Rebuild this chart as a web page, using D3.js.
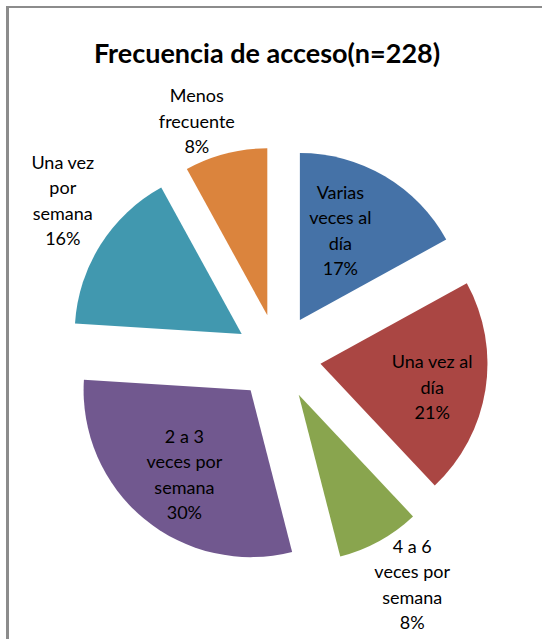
<!DOCTYPE html>
<html>
<head>
<meta charset="utf-8">
<script src="https://cdn.jsdelivr.net/npm/d3@7"></script>
<style>
    html, body { margin: 0; padding: 0; background: #fff; }
    svg { display: block; }
</style>
</head>
<body>
<div id="chart"></div>
<script>
    // Chart data
    var title = 'Frecuencia de acceso(n=228)';
    var categories = [
        ['Varias', 'veces al', 'día'],
        ['Una vez al', 'día'],
        ['4 a 6', 'veces por', 'semana'],
        ['2 a 3', 'veces por', 'semana'],
        ['Una vez', 'por', 'semana'],
        ['Menos', 'frecuente']
    ];
    var values = [17, 21, 8, 30, 16, 8];
    var colors = ['#4572A7', '#AA4643', '#89A54E', '#71588F', '#4198AF', '#DB843D'];

    // Layout
    var width = 542;
    var height = 639;
    var cx = 278, cy = 357;      // centre of the un-exploded pie
    var radius = 167;
    var explode = 43;            // distance each slice is pulled out
    var insideRadius = 150;      // label distance for labels drawn on the slice
    var outsideRadius = 262;     // label distance for labels drawn outside
    var lineHeight = 25.5;
    // small hand corrections so labels sit where Excel put them
    var labelNudge = [[-14, 3], [6, 7], [8, -2], [2, 2], [6, -16], [-16, 18]];

    var svg = d3.select('#chart').append('svg')
        .attr('width', width)
        .attr('height', height);

    /**
     * Chart frame: only the top and left edges are visible in the crop.
     */
    svg.append('line')
        .attr('x1', 6).attr('y1', 7)
        .attr('x2', width).attr('y2', 7)
        .style('stroke', '#8c8c8c')
        .style('stroke-width', 2);

    svg.append('line')
        .attr('x1', 7.5).attr('y1', 6)
        .attr('x2', 7.5).attr('y2', height)
        .style('stroke', '#8c8c8c')
        .style('stroke-width', 3);

    svg.append('text')
        .attr('x', 267)
        .attr('y', 56)
        .attr('text-anchor', 'middle')
        .attr('dominant-baseline', 'middle')
        .style('font-family', 'Lato, "Open Sans", sans-serif')
        .style('font-weight', 'bold')
        .style('font-size', '27px')
        .style('fill', '#000')
        .text(title);

    var pie = d3.pie()
        .sort(null)
        .value(function (d) { return d; });

    var arc = d3.arc()
        .innerRadius(0)
        .outerRadius(radius);

    var slices = pie(values);

    function midAngle(d) {
        return (d.startAngle + d.endAngle) / 2;
    }

    var pieGroup = svg.append('g')
        .attr('transform', 'translate(' + cx + ',' + cy + ')');

    pieGroup.selectAll('path')
        .data(slices)
        .enter().append('path')
            .attr('d', arc)
            .attr('transform', function (d) {
                var a = midAngle(d);
                return 'translate(' + (Math.sin(a) * explode) + ',' + (-Math.cos(a) * explode) + ')';
            })
            .style('fill', function (d, i) { return colors[i]; });

    // Labels for the three largest slices sit on the slice, the rest outside
    var labels = pieGroup.selectAll('text.label')
        .data(slices)
        .enter().append('text')
            .attr('class', 'label')
            .attr('text-anchor', 'middle')
            .style('font-family', 'Lato, "Open Sans", sans-serif')
            .style('font-size', '18px')
            .style('fill', '#000')
            .attr('transform', function (d, i) {
                var a = midAngle(d);
                var r = d.value >= 17 ? insideRadius : outsideRadius;
                var x = Math.sin(a) * r + labelNudge[i][0];
                var y = -Math.cos(a) * r + labelNudge[i][1];
                return 'translate(' + x + ',' + y + ')';
            });

    labels.each(function (d, i) {
        var lines = categories[i].concat([d.value + '%']);
        var top = -(lines.length - 1) / 2 * lineHeight;
        d3.select(this).selectAll('tspan')
            .data(lines)
            .enter().append('tspan')
                .attr('x', 0)
                .attr('y', function (t, j) { return top + j * lineHeight; })
                .attr('dy', '0.35em')
                .text(function (t) { return t; });
    });
</script>
</body>
</html>
